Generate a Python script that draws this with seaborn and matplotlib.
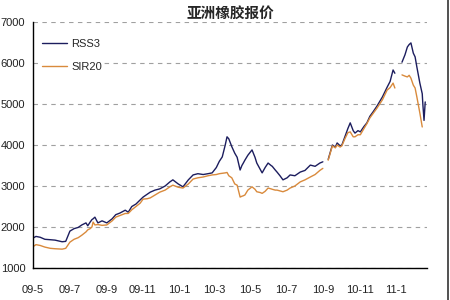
import numpy as np
import pandas as pd
import matplotlib
matplotlib.use("Agg")
import matplotlib.pyplot as plt
import matplotlib.dates as mdates
from matplotlib.lines import Line2D
import seaborn as sns

# ---- data ----
dates = [
    "2009-05-01", "2009-05-06", "2009-05-13", "2009-05-21", "2009-05-30", "2009-06-07",
    "2009-06-19", "2009-06-25", "2009-07-02", "2009-07-09", "2009-07-16", "2009-07-22",
    "2009-07-29", "2009-08-01", "2009-08-05", "2009-08-08", "2009-08-10", "2009-08-13",
    "2009-08-18", "2009-08-25", "2009-09-02", "2009-09-11", "2009-09-17", "2009-09-24",
    "2009-10-03", "2009-10-08", "2009-10-14", "2009-10-21", "2009-10-28", "2009-11-02",
    "2009-11-09", "2009-11-14", "2009-11-22", "2009-11-30", "2009-12-09", "2009-12-17",
    "2009-12-22", "2009-12-31", "2010-01-08", "2010-01-17", "2010-01-25", "2010-02-02",
    "2010-02-11", "2010-02-19", "2010-02-26", "2010-03-05", "2010-03-10", "2010-03-15",
    "2010-03-20", "2010-03-23", "2010-03-26", "2010-03-31", "2010-04-05", "2010-04-09",
    "2010-04-14", "2010-04-17", "2010-04-19", "2010-04-22", "2010-04-27", "2010-05-04",
    "2010-05-09", "2010-05-12", "2010-05-18", "2010-05-21", "2010-05-26", "2010-05-31",
    "2010-06-05", "2010-06-07", "2010-06-12", "2010-06-15", "2010-06-20", "2010-06-25",
    "2010-07-02", "2010-07-07", "2010-07-15", "2010-07-24", "2010-08-01", "2010-08-10",
    "2010-08-18", "2010-08-26", "2010-08-31", "2010-09-04",
    "2010-09-09", "2010-09-16", "2010-09-21", "2010-09-24", "2010-09-29", "2010-10-02",
    "2010-10-07", "2010-10-12", "2010-10-16", "2010-10-21", "2010-10-24", "2010-10-29",
    "2010-11-02", "2010-11-08", "2010-11-13", "2010-11-18", "2010-11-23", "2010-11-30",
    "2010-12-09", "2010-12-17", "2010-12-22", "2010-12-27", "2010-12-30", "2011-01-05",
    "2011-01-11", "2011-01-16", "2011-01-20", "2011-01-23", "2011-01-26", "2011-01-30",
    "2011-02-02", "2011-02-05", "2011-02-10", "2011-02-14", "2011-02-15", "2011-02-17",
    "2011-02-19",
]
nan = float("nan")
rss3 = [
    1730, 1770, 1750, 1700, 1690, 1680,
    1640, 1650, 1900, 1960, 1990, 2050,
    2100, 2030, 2120, 2180, 2200, 2240,
    2100, 2150, 2100, 2200, 2300, 2340,
    2410, 2360, 2500, 2560, 2660, 2730,
    2800, 2850, 2900, 2930, 3000, 3100,
    3150, 3050, 2980, 3150, 3270, 3300,
    3280, 3300, 3320, 3450, 3600, 3710,
    4000, 4200, 4150, 3960, 3800, 3700,
    3390, 3500, 3550, 3630, 3750, 3880,
    3700, 3560, 3400, 3320, 3450, 3560,
    3500, 3480, 3390, 3340, 3250, 3150,
    3200, 3270, 3250, 3340, 3380, 3510,
    3480, 3560, 3590, nan,
    3650, 4000, 3950, 4050, 3980, 4000,
    4200, 4400, 4540, 4350, 4290, 4350,
    4320, 4450, 4540, 4700, 4800, 4950,
    5170, 5410, 5550, 5830, 5750, nan,
    6020, 6200, 6390, 6450, 6490, 6240,
    6150, 5900, 5510, 5250, 5000, 4600,
    5050,
]
sir20 = [
    1520, 1570, 1550, 1510, 1480, 1470,
    1460, 1480, 1630, 1700, 1740, 1800,
    1880, 1930, 1960, 2000, 2120, 2050,
    2060, 2040, 2050, 2150, 2240, 2280,
    2330, 2330, 2420, 2500, 2580, 2680,
    2690, 2710, 2780, 2850, 2900, 2980,
    3020, 2970, 2950, 3050, 3170, 3200,
    3220, 3250, 3270, 3280, 3300, 3310,
    3320, 3330, 3250, 3200, 3050, 3020,
    2730, 2750, 2760, 2780, 2900, 2980,
    2920, 2860, 2840, 2820, 2870, 2950,
    2930, 2920, 2900, 2900, 2880, 2860,
    2900, 2950, 3000, 3100, 3150, 3220,
    3280, 3380, 3430, nan,
    3630, 3980, 3930, 4000, 3950, 3980,
    4150, 4300, 4320, 4200, 4200, 4250,
    4250, 4400, 4520, 4660, 4760, 4900,
    5100, 5340, 5400, 5510, 5390, nan,
    5710, 5680, 5660, 5700, 5630, 5460,
    5390, 5170, 4780, 4440, nan, nan,
    nan,
]
series_names = ["RSS3", "SIR20"]
series_colors = ["#1c1d5e", "#d98a3c"]
title = "亚洲橡胶报价"
y_ticks = [1000, 2000, 3000, 4000, 5000, 6000, 7000]

# ---- build long table with segment ids (gaps split the lines) ----
frames = []
for name, vals in zip(series_names, [rss3, sir20]):
    d = pd.DataFrame({"date": pd.to_datetime(dates), "value": vals})
    d["seg"] = d["value"].isna().cumsum()
    d = d.dropna()
    d["series"] = name
    frames.append(d)
df = pd.concat(frames, ignore_index=True)

sns.set_style("white")
plt.rcParams["font.family"] = ["Liberation Sans", "Noto Sans CJK SC", "DejaVu Sans"]

fig = plt.figure(figsize=(4.5, 3.0), dpi=100)
ax = fig.add_axes([33 / 450, 1 - 268 / 300, (427 - 33) / 450, (268 - 22) / 300])

sns.lineplot(data=df, x="date", y="value", hue="series", units="seg",
             estimator=None, palette=dict(zip(series_names, series_colors)),
             hue_order=series_names, linewidth=1.0, ax=ax, legend=False)

ax.set_xlim(pd.Timestamp("2009-05-01"), pd.Timestamp("2011-02-22"))
ax.set_ylim(1000, 7000)
ax.set_yticks(y_ticks)
ax.set_xlabel("")
ax.set_ylabel("")

ax.xaxis.set_major_locator(mdates.MonthLocator(bymonth=[1, 3, 5, 7, 9, 11]))
ax.xaxis.set_major_formatter(plt.FuncFormatter(
    lambda v, p: f"{mdates.num2date(v).year % 100:02d}-{mdates.num2date(v).month}"))

ax.yaxis.grid(True, linestyle=(0, (4, 4)), color="#a0a0a0", linewidth=0.8)
ax.xaxis.grid(False)
for s in ["top", "right"]:
    ax.spines[s].set_visible(False)
for s in ["left", "bottom"]:
    ax.spines[s].set_color("black")
    ax.spines[s].set_linewidth(1.0)
ax.tick_params(axis="x", direction="in", length=4, width=1, color="black",
               pad=12, labelsize=8, labelcolor="#222222")
ax.tick_params(axis="y", direction="in", length=3, width=1, color="black",
               pad=5.5, labelsize=8, labelcolor="#222222")

handles = [Line2D([0], [0], color=c, lw=1.0) for c in series_colors]
leg = ax.legend(handles, series_names, loc="upper left", frameon=True,
                bbox_to_anchor=(41 / 450, 1 - 38 / 300), bbox_transform=fig.transFigure,
                borderaxespad=0, borderpad=0.1, handlelength=2.2, handletextpad=0.45,
                labelspacing=1.15, fontsize=8, fancybox=False)
leg.get_frame().set_facecolor("white")
leg.get_frame().set_edgecolor("none")
leg.get_frame().set_alpha(1.0)

fig.text(230 / 450, 1 - 13.5 / 300, title, ha="center", va="center",
         fontsize=10.5, fontweight="bold",
         family=["Noto Sans CJK SC", "DejaVu Sans"])

fig.add_artist(Line2D([447.5 / 450, 447.5 / 450], [0, 1], transform=fig.transFigure,
                      color="#333333", lw=1.2))

fig.savefig("out.png", dpi=100)
